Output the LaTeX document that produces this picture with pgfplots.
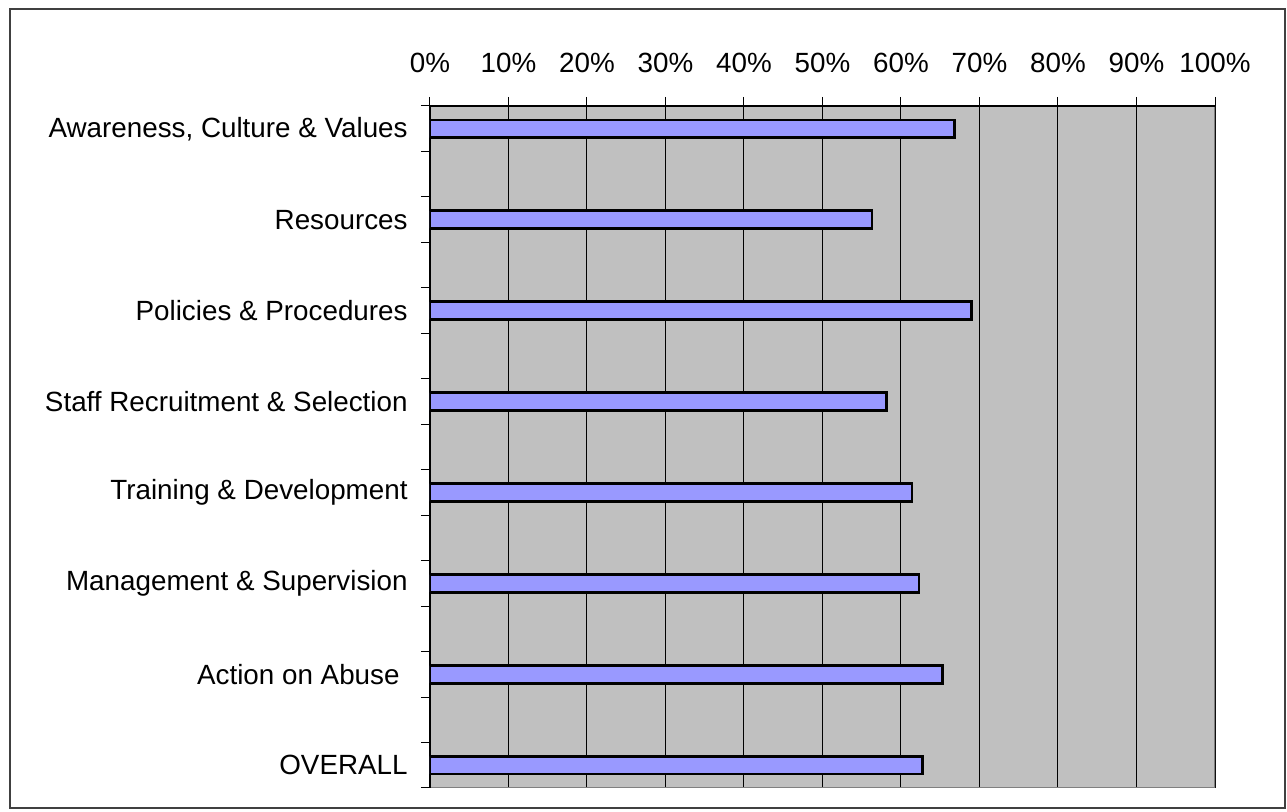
\documentclass[border=0pt]{standalone}
\usepackage{pgfplots}
\pgfplotsset{compat=1.18}
\usepackage{fontspec}
\setmainfont{Liberation Sans}
\definecolor{plotbg}{HTML}{C0C0C0}
\definecolor{barfill}{HTML}{9999FF}
\begin{document}
\begin{tikzpicture}
\useasboundingbox (0,0) rectangle (643.5pt,406pt);
\draw[line width=0.9pt, black!75] (5pt,2pt) rectangle (642.5pt,401.5pt);
\begin{axis}[
    at={(215pt,12pt)}, anchor=south west,
    scale only axis, width=392.5pt, height=341pt,
    xbar, bar width=8.8pt,
    xmin=0, xmax=100, ymin=-0.5, ymax=14.5,
    axis background/.style={fill=plotbg},
    axis line style={draw=none},
    xtick={0,10,...,100},
    xticklabels={0\%,10\%,20\%,30\%,40\%,50\%,60\%,70\%,80\%,90\%,100\%},
    xtick pos=right, xticklabel pos=right,
    tick align=outside, major tick length=4.5pt,
    tick style={black, line width=0.5pt},
    xmajorgrids, grid style={black, line width=0.5pt},
    ytick={0,2,...,14},
    yticklabels={OVERALL, {Action on Abuse\kern4pt}, Management \& Supervision, Training \& Development, Staff Recruitment \& Selection, Policies \& Procedures, Resources, {Awareness, Culture \& Values}},
    ytick pos=left,
    ytick style={draw=none},
    extra y ticks={-0.5,0.5,...,14.5},
    extra y tick labels={},
    extra y tick style={ytick style={draw=black, line width=0.5pt}, ymajorgrids=false},
    ticklabel style={font=\fontsize{13.9}{16}\selectfont, inner sep=0pt},
    x tick label style={yshift=12pt},
    y tick label style={xshift=-6.5pt},
]
\addplot[fill=barfill, draw=black, line width=1.4pt] coordinates {
    (62.7,0) (65.3,2) (62.3,4) (61.4,6) (58.2,8) (69.0,10) (56.3,12) (66.8,14)
};
\draw[black!50, line width=1pt] (rel axis cs:0,0) -- (rel axis cs:1,0) -- (rel axis cs:1,1);
\draw[black, line width=0.6pt] (rel axis cs:0,0) -- (rel axis cs:0,1) -- (rel axis cs:1,1);
\end{axis}
\end{tikzpicture}
\end{document}
